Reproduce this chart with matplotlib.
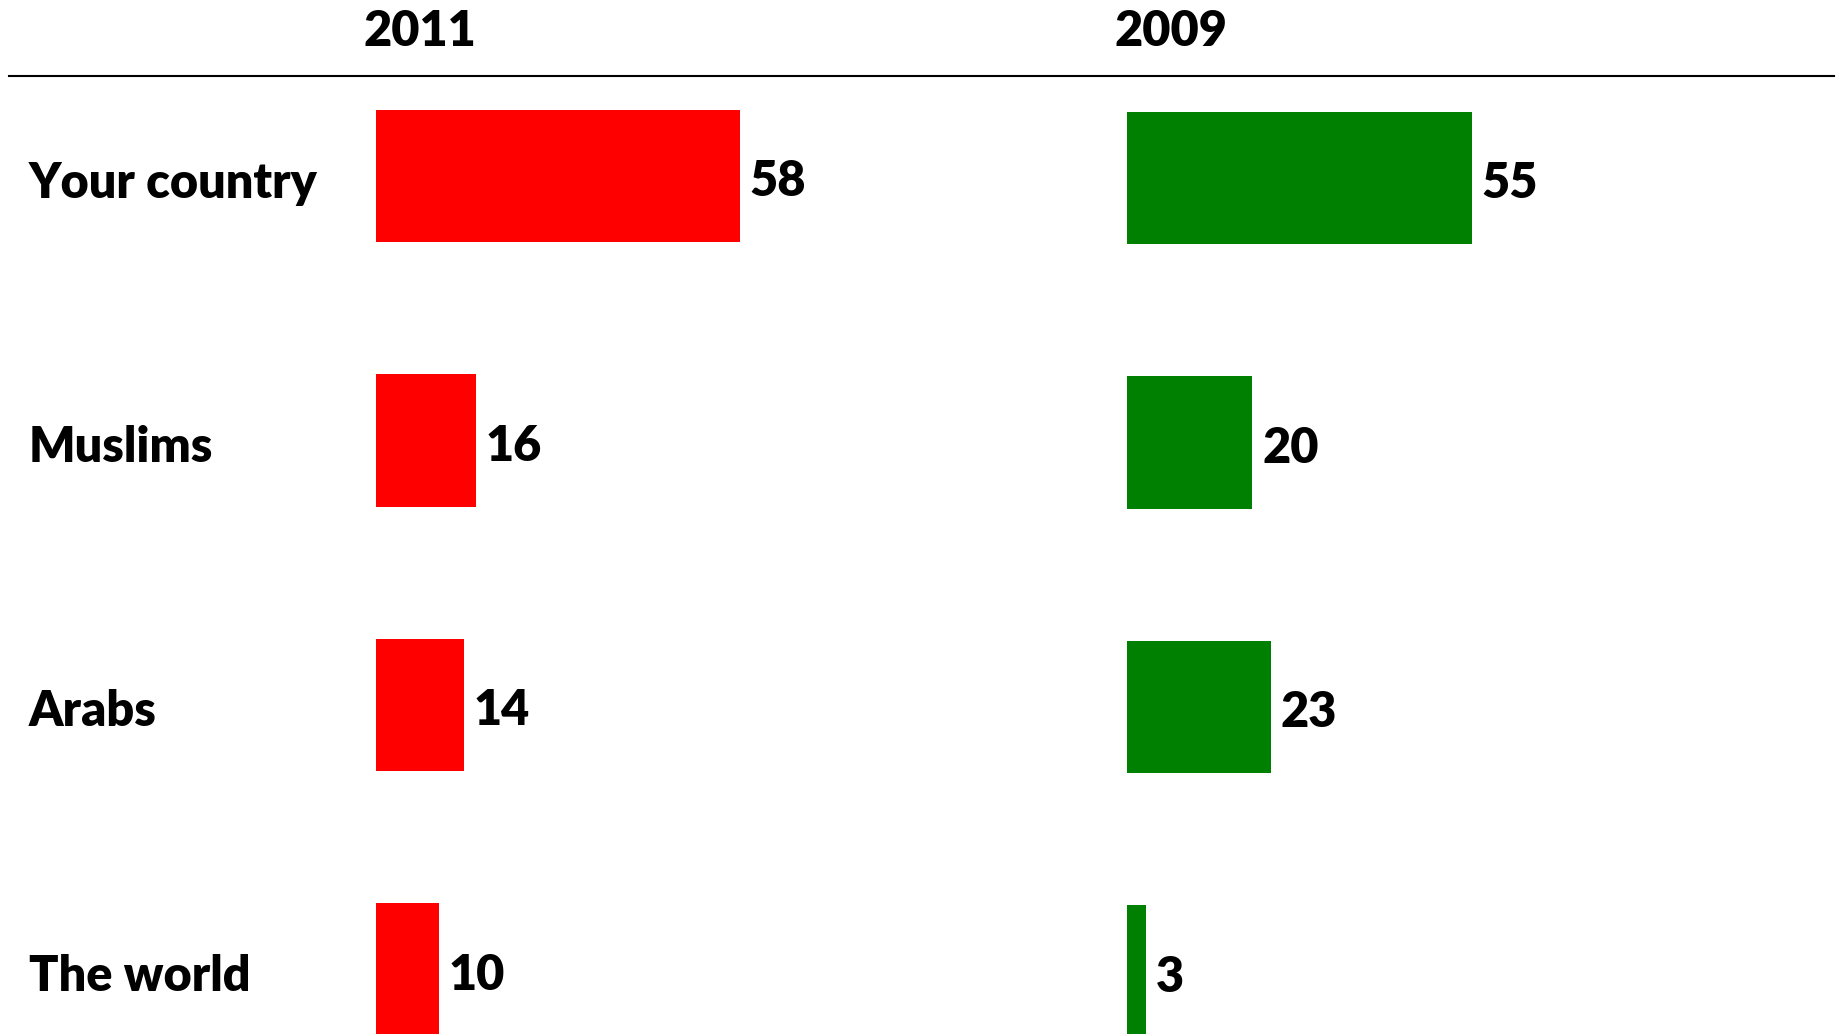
import numpy as np
import matplotlib.pyplot as plt
from matplotlib.lines import Line2D

groups = ["Your country", "Muslims", "Arabs", "The world"]
years = ["2011", "2009"]
vals_2011 = [58, 16, 14, 10]
vals_2009 = [55, 20, 23, 3]
colors = ["#ff0000", "#008000"]

plt.rcParams['font.family'] = ['Lato', 'DejaVu Sans']
fs = 35
wt = 'heavy'

W, H = 1843, 1034
fig = plt.figure(figsize=(W / 100, H / 100), dpi=100)

y = np.arange(len(groups))
# row 0 centred at 176 px from top, rows 264.5 px apart
row_gap = 264.5
ylim = ((H - 176) / row_gap, -176 / row_gap)

panels = [(376, 0, vals_2011), (1127, 2, vals_2009)]
for (left_px, drop_px, vals), year, col in zip(panels, years, colors):
    ax = fig.add_axes([left_px / W, -drop_px / H, 627 / W, 1])
    ax.barh(y, vals, height=0.5, color=col)
    ax.set_xlim(0, 100)
    ax.set_ylim(*ylim)
    ax.axis('off')
    for yi, v in zip(y, vals):
        ax.annotate(str(v), (v, yi), xytext=(7, -4), textcoords='offset points',
                    ha='left', va='center', fontsize=fs, fontweight=wt)
    fig.text((left_px + 44) / W, 1 - 32 / H, year, ha='center', va='center',
             fontsize=fs, fontweight=wt)

for yi, g in zip(y, groups):
    fig.text(29 / W, 1 - (183 + yi * row_gap) / H, g, ha='left', va='center',
             fontsize=fs, fontweight=wt)

fig.add_artist(Line2D([9 / W, 1834 / W], [1 - 76 / H, 1 - 76 / H],
                      color='black', linewidth=1.5, transform=fig.transFigure))

fig.savefig("out.png", dpi=100)
